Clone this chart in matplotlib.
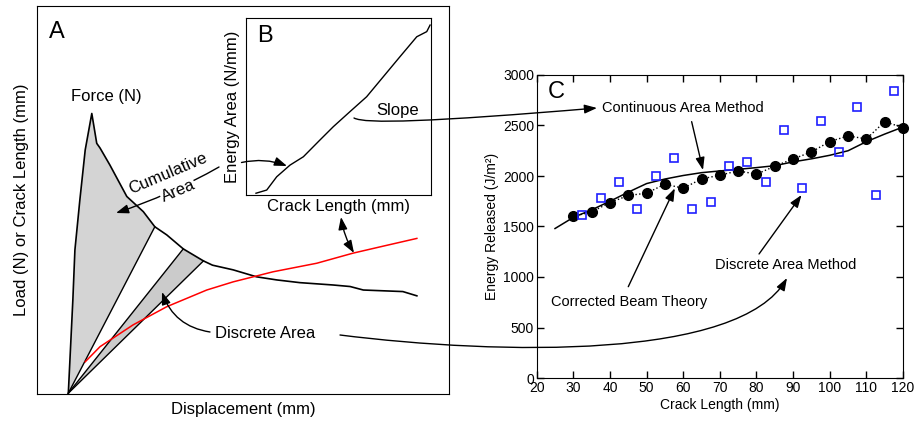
import numpy as np
import matplotlib
matplotlib.use('Agg')
import matplotlib.pyplot as plt
from matplotlib.patches import FancyArrowPatch
from matplotlib.path import Path

plt.rcParams['font.family'] = ['Liberation Sans', 'DejaVu Sans']

# A: load-displacement curve (schematic units 0-100)
force_disp = [7.6, 8.7, 9.2, 10.4, 11.7, 13.3, 14.5, 15.3, 17.7, 21.8, 25.8, 28.6, 31.5,
              35.5, 40.4, 42.6, 47.6, 53.3, 58.2, 63.8, 71.8, 76.0, 79.2, 84.0, 88.8, 92.2]
force_load = [0.2, 24.2, 37.1, 50.0, 62.9, 72.3, 64.6, 63.4, 59.0, 50.9, 47.0, 43.1, 41.0,
              37.4, 34.3, 33.2, 32.0, 30.2, 29.4, 28.7, 28.1, 27.7, 26.8, 26.6, 26.4, 25.3]
cum_end = 11      # end of cumulative area
disc_start = 13   # discrete area between these two points
disc_end = 14

# A: crack length curve
crack_disp = [11.7, 15.3, 23.3, 31.5, 41.2, 47.6, 57.3, 67.9, 76.7, 84.0, 92.2]
crack_len = [8.3, 12.2, 17.8, 22.5, 26.8, 28.9, 31.5, 33.7, 36.3, 38.1, 40.1]

# B: energy area vs crack length
b_crack = [5.4, 11.2, 16.6, 23.8, 31.0, 40.0, 47.2, 56.2, 65.2, 74.2, 83.2, 92.3, 97.7, 99.5]
b_energy = [1.0, 2.8, 10.3, 16.9, 21.6, 31.1, 38.6, 47.1, 55.5, 66.8, 78.1, 89.4, 92.3, 96.0]

# C: energy released
cbt_x = [30, 35, 40, 45, 50, 55, 60, 65, 70, 75, 80, 85, 90, 95, 100, 105, 110, 115, 120]
cbt_y = [1600, 1645, 1737, 1807, 1830, 1919, 1879, 1971, 2008, 2051, 2018, 2097, 2169,
         2238, 2341, 2397, 2367, 2538, 2479]
dam_x = [32.5, 37.5, 42.5, 47.5, 52.5, 57.5, 62.5, 67.5, 72.5, 77.5, 82.5, 87.5, 92.5,
         97.5, 102.5, 107.5, 112.5, 117.5]
dam_y = [1609, 1787, 1938, 1678, 2004, 2179, 1678, 1747, 2097, 2140, 1938, 2459, 1879,
         2548, 2238, 2687, 1810, 2838]
cam_x = [25, 30, 35, 40, 45, 50, 55, 60, 65, 70, 75, 80, 85, 90, 95, 100, 105, 110, 115, 120]
cam_y = [1480, 1590, 1665, 1750, 1840, 1925, 1970, 2005, 2033, 2050, 2066, 2083, 2102,
         2140, 2170, 2205, 2250, 2340, 2415, 2485]

W, H = 915, 423
fig = plt.figure(figsize=(W / 100, H / 100), dpi=100)

def box(l, t, r, b):
    return [l / W, 1 - b / H, (r - l) / W, (b - t) / H]

arrow = '-|>,head_length=0.5,head_width=0.18'

# ---- A ----
axA = fig.add_axes(box(37, 6, 449, 394))
axA.set_xlim(0, 100)
axA.set_ylim(0, 100)
axA.set_xticks([])
axA.set_yticks([])
fd = np.array(force_disp)
fl = np.array(force_load)
o = (fd[0], fl[0])
axA.fill(np.r_[fd[:cum_end + 1], o[0]], np.r_[fl[:cum_end + 1], o[1]], color='#d4d4d4', lw=0)
axA.fill(np.r_[fd[disc_start:disc_end + 1], o[0]], np.r_[fl[disc_start:disc_end + 1], o[1]],
         color='#cbcbcb', lw=0)
for i in (cum_end, disc_start, disc_end):
    axA.plot([o[0], fd[i]], [o[1], fl[i]], color='k', lw=1)
axA.plot(fd, fl, color='k', lw=1.2)
axA.plot(crack_disp, crack_len, color='red', lw=1.1)
axA.set_xlabel('Displacement (mm)', fontsize=12, labelpad=6)
axA.set_ylabel('Load (N) or Crack Length (mm)', fontsize=12, labelpad=6)
axA.text(0.048, 0.934, 'A', transform=axA.transAxes, fontsize=17, va='center', ha='center')

# ---- B ----
axB = fig.add_axes(box(246, 18, 431, 195))
axB.set_xlim(0, 100)
axB.set_ylim(0, 100)
axB.set_xticks([])
axB.set_yticks([])
axB.plot(b_crack, b_energy, color='k', lw=1)
axB.set_xlabel('Crack Length (mm)', fontsize=12, labelpad=3)
axB.set_ylabel('Energy Area (N/mm)', fontsize=12, labelpad=4)
axB.text(0.105, 0.9, 'B', transform=axB.transAxes, fontsize=17, va='center', ha='center')
axB.set_zorder(3)

# ---- C ----
axC = fig.add_axes(box(536.7, 75, 903, 378))
axC.plot(cam_x, cam_y, color='k', lw=1.1)
axC.plot(cbt_x, cbt_y, color='k', lw=1, ls=':', marker='o', ms=7, mfc='k', clip_on=False)
axC.plot(dam_x, dam_y, ls='none', marker='s', ms=5.8, mfc='none', mec='#1f1fff', mew=1.2,
         clip_on=False)
axC.set_xlim(20, 120)
axC.set_ylim(0, 3000)
axC.set_xticks(range(20, 121, 10))
axC.set_yticks(range(0, 3001, 500))
axC.tick_params(direction='in', top=True, right=True, length=5, width=1, labelsize=10, pad=2)
axC.set_xlabel('Crack Length (mm)', fontsize=10, labelpad=2)
axC.set_ylabel('Energy Released (J/m²)', fontsize=10, labelpad=3)
axC.text(25.4, 2830, 'C', fontsize=17, va='center', ha='center')
ap = dict(arrowstyle=arrow, mutation_scale=15, lw=1, color='k', shrinkA=0, shrinkB=0)
axC.text(37.7, 2670, 'Continuous Area Method', fontsize=10.5, va='center', ha='left')
axC.annotate('', xy=(65.4, 2059), xytext=(62.3, 2538), arrowprops=ap)
axC.text(45.2, 755, 'Corrected Beam Theory', fontsize=10.5, va='center', ha='center')
axC.annotate('', xy=(57.7, 1878), xytext=(45, 904), arrowprops=ap)
axC.text(87.9, 1119, 'Discrete Area Method', fontsize=10.5, va='center', ha='center')
axC.annotate('', xy=(92.3, 1812), xytext=(80.7, 1228), arrowprops=ap)

# ---- overlay in pixel coordinates for callouts ----
ov = fig.add_axes([0, 0, 1, 1])
ov.set_xlim(0, W)
ov.set_ylim(H, 0)
ov.axis('off')
ov.set_zorder(5)
ov.patch.set_alpha(0)

ov.text(106.7, 96, 'Force (N)', fontsize=12, ha='center', va='center')
ov.text(168, 173, 'Cumulative', fontsize=12, ha='center', va='center', rotation=23)
ov.text(178, 191, 'Area', fontsize=12, ha='center', va='center', rotation=23,
        bbox=dict(facecolor='white', edgecolor='none', pad=0.5))
ov.add_patch(FancyArrowPatch((219, 167), (116, 213), connectionstyle='arc3,rad=-0.05',
                             arrowstyle=arrow, mutation_scale=15, lw=1, color='k',
                             shrinkA=0, shrinkB=0))
ov.text(265, 333, 'Discrete Area', fontsize=12, ha='center', va='center')
ov.add_patch(FancyArrowPatch((210, 332), (162, 292), connectionstyle='arc3,rad=-0.3',
                             arrowstyle=arrow, mutation_scale=15, lw=1, color='k',
                             shrinkA=0, shrinkB=0))
ov.add_patch(FancyArrowPatch((341, 217), (354, 253), connectionstyle='arc3,rad=0.1',
                             arrowstyle='<|-|>,head_length=0.5,head_width=0.18',
                             mutation_scale=15, lw=1, color='k', shrinkA=0, shrinkB=0))
ov.add_patch(FancyArrowPatch((241.5, 162.5), (287, 166), connectionstyle='arc3,rad=-0.15',
                             arrowstyle=arrow, mutation_scale=15, lw=1, color='k',
                             shrinkA=0, shrinkB=0))
ov.text(398, 110, 'Slope', fontsize=12, ha='center', va='center')

slope_path = Path([(354, 118), (365, 124), (430, 122), (597, 108)],
                  [Path.MOVETO, Path.CURVE4, Path.CURVE4, Path.CURVE4])
ov.add_patch(FancyArrowPatch(path=slope_path, arrowstyle=arrow, mutation_scale=15, lw=1,
                             color='k', shrinkA=0, shrinkB=0))
disc_path = Path([(340, 335), (500, 355), (740, 360), (787, 278)],
                 [Path.MOVETO, Path.CURVE4, Path.CURVE4, Path.CURVE4])
ov.add_patch(FancyArrowPatch(path=disc_path, arrowstyle=arrow, mutation_scale=15, lw=1,
                             color='k', shrinkA=0, shrinkB=0))

fig.savefig('out.png', dpi=100)
